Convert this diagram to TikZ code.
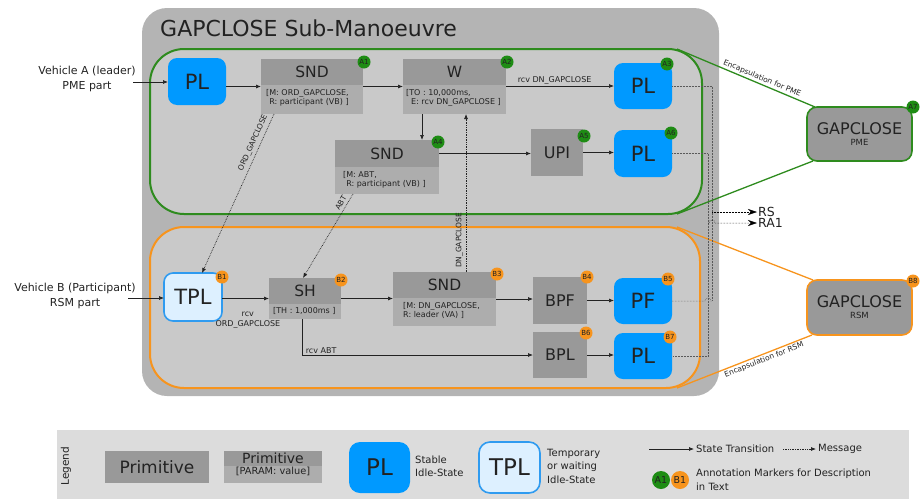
\documentclass[tikz,border=0pt]{standalone}
\usepackage{fontspec}
\setmainfont{DejaVu Sans}
\usetikzlibrary{arrows.meta,calc}
\definecolor{outergray}{HTML}{B4B4B4}
\definecolor{innergray}{HTML}{C9C9C9}
\definecolor{hdrgray}{HTML}{999999}
\definecolor{bodygray}{HTML}{ADADAD}
\definecolor{plblue}{HTML}{0099FF}
\definecolor{tplfill}{HTML}{DDF0FF}
\definecolor{tplborder}{HTML}{2F9BF0}
\definecolor{gline}{HTML}{2E8B1E}
\definecolor{oline}{HTML}{F7941D}
\definecolor{mgreen}{HTML}{1E8C14}
\definecolor{morange}{HTML}{F7941D}
\definecolor{legbg}{HTML}{DCDCDC}
\definecolor{txt}{HTML}{222222}
\newcommand{\fz}[2]{\fontsize{#1}{#2}\selectfont}
\tikzset{
  box/.style={inner sep=0pt, outer sep=0pt, text=txt},
  hdr/.style={box, fill=hdrgray, font=\fz{15.5}{18}},
  bodyb/.style={box, fill=bodygray},
  btxt/.style={inner sep=0pt, align=left, anchor=north west, font=\fz{8}{9.6}, text=txt},
  prim/.style={box, fill=hdrgray, font=\fz{16}{19}},
  idle/.style={box, fill=plblue, rounded corners=9pt, minimum width=58pt, minimum height=47pt, font=\fz{21}{24}},
  tplst/.style={box, fill=tplfill, draw=tplborder, line width=1.6pt, rounded corners=9pt, minimum width=58pt, minimum height=48pt, font=\fz{21}{24}},
  mk/.style={circle, inner sep=0pt, minimum size=13pt, font=\fz{7}{8}, text=txt},
  mkg/.style={mk, fill=mgreen},
  mko/.style={mk, fill=morange},
  arr/.style={draw=txt, line width=0.7pt, -{Latex[length=5pt,width=4pt]}},
  msg/.style={arr, densely dotted},
  lbl/.style={inner sep=1.5pt, font=\fz{8}{9.6}, text=txt},
  rsl/.style={draw=black!65, line width=0.5pt, densely dotted},
  enc/.style={line width=1.3pt},
  cap/.style={box, font=\fz{16}{18}, align=center}
}
\begin{document}
\begin{tikzpicture}[x=1pt, y=-1pt, font=\fz{10}{12}]
\useasboundingbox (0,0) rectangle (923,498);
% outer container
\fill[outergray, rounded corners=25pt] (142,8) rectangle (719,396);
\node[anchor=base west, inner sep=0pt, font=\fz{22}{26}, text=txt] (title) at (160,36) {GAPCLOSE Sub-Manoeuvre};
% phase boxes
\draw[gline, fill=innergray, line width=2pt, rounded corners=34pt] (150,49) rectangle (702,214);
\draw[oline, fill=innergray, line width=2pt, rounded corners=34pt] (150,227) rectangle (700,388);
\coordinate (gtop) at (677,49);
\coordinate (gbot) at (677,214);
\coordinate (otop) at (677,227);
\coordinate (obot) at (677,388);

% encapsulation targets
\node[box, fill=hdrgray, draw=gline, line width=1.6pt, rounded corners=10pt, minimum width=105pt, minimum height=54pt, align=center] (pme) at (859.5,134) {\fz{16}{18}GAPCLOSE\\[-1pt]\fz{8.5}{10}PME};
\node[box, fill=hdrgray, draw=oline, line width=1.6pt, rounded corners=10pt, minimum width=105pt, minimum height=55pt, align=center] (rsm) at (859.5,307.5) {\fz{16}{18}GAPCLOSE\\[-1pt]\fz{8.5}{10}RSM};
\draw[gline, enc] (gtop) -- node[sloped, above, pos=0.6, inner sep=1.5pt, font=\fz{7.5}{9}, text=txt] {Encapsulation for PME} ($(pme.north west)+(8,0)$);
\draw[gline, enc] (gbot) -- ($(pme.south west)+(6,0)$);
\draw[oline, enc] (otop) -- ($(rsm.north west)+(6,0)$);
\draw[oline, enc] (obot) -- node[sloped, below, pos=0.63, inner sep=1.5pt, font=\fz{7.5}{9}, text=txt] {Encapsulation for RSM} ($(rsm.south west)+(5,0)$);

% ---- Vehicle A row ----
\node[idle] (pl1) at (197,81.5) {PL};

\node[bodyb, minimum width=102pt, minimum height=55pt] (snd1) at (312,86.5) {};
\node[hdr, minimum width=102pt, minimum height=26pt, anchor=north] (snd1h) at (snd1.north) {SND};
\node[btxt] (snd1t) at ($(snd1h.south west)+(5,4)$) {[M: ORD\_GAPCLOSE,\\\phantom{[}R: participant (VB) ]};

\node[bodyb, minimum width=103pt, minimum height=55pt] (w) at (454.5,86.5) {};
\node[hdr, minimum width=103pt, minimum height=26pt, anchor=north] (wh) at (w.north) {W};
\node[btxt] (wt) at ($(wh.south west)+(3,4)$) {[TO : 10,000ms,\\\hspace{5pt}E: rcv DN\_GAPCLOSE ]};

\node[idle, minimum height=46pt] (pl3) at (643,86) {PL};

\node[bodyb, minimum width=104pt, minimum height=54pt] (snd4) at (387,167) {};
\node[hdr, minimum width=104pt, minimum height=27pt, anchor=north] (snd4h) at (snd4.north) {SND};
\node[btxt] (snd4t) at ($(snd4h.south west)+(8,4)$) {[M: ABT,\\\phantom{[}R: participant (VB) ]};

\node[prim, minimum width=52pt, minimum height=47pt] (upi) at (557,152.5) {UPI};
\node[idle] (pl6) at (643,153.5) {PL};

% ---- Vehicle B row ----
\node[tplst] (tpl) at (193,297) {TPL};

\node[bodyb, minimum width=72pt, minimum height=41pt] (sh) at (305,298.5) {};
\node[hdr, minimum width=72pt, minimum height=26pt, anchor=north] (shh) at (sh.north) {SH};
\node[btxt] (sht) at ($(shh.south west)+(4,3)$) {[TH : 1,000ms ]};

\node[bodyb, minimum width=103pt, minimum height=54pt] (snd3) at (444.5,299) {};
\node[hdr, minimum width=103pt, minimum height=26pt, anchor=north] (snd3h) at (snd3.north) {SND};
\node[btxt] (snd3t) at ($(snd3h.south west)+(10,4)$) {[M: DN\_GAPCLOSE,\\R: leader (VA) ]};

\node[prim, minimum width=54pt, minimum height=47pt] (bpf) at (560,300.5) {BPF};
\node[idle, minimum height=46pt] (pf) at (643,301) {PF};
\node[prim, minimum width=54pt, minimum height=46pt] (bpl) at (560,355) {BPL};
\node[idle, minimum height=46pt] (pl7) at (643,356) {PL};

% ---- markers ----
\node[mkg] (mA1) at (364,62) {A1};
\node[mkg] (mA2) at (507,62) {A2};
\node[mkg] (mA3) at (667,64) {A3};
\node[mkg] (mA4) at (438,142) {A4};
\node[mkg] (mA5) at (584,136) {A5};
\node[mkg] (mA6) at (671,133) {A6};
\node[mkg] (mA7) at (913,107) {A7};
\node[mko] (mB1) at (222,277) {B1};
\node[mko] (mB2) at (341,280) {B2};
\node[mko] (mB3) at (497,274) {B3};
\node[mko] (mB4) at (587,277) {B4};
\node[mko] (mB5) at (668,279) {B5};
\node[mko] (mB6) at (586,333) {B6};
\node[mko] (mB7) at (670,337) {B7};
\node[mko] (mB8) at (913,281) {B8};

% ---- entry labels ----
\node[align=center, font=\fz{11}{14.5}, text=txt, inner sep=0pt] (vA) at (87,79) {Vehicle A (leader)\\PME part};
\node[align=center, font=\fz{11}{14.5}, text=txt, inner sep=0pt] (vB) at (75,296) {Vehicle B (Participant)\\RSM part};
\coordinate (vAin) at (133,82);
\coordinate (vBin) at (128,298);
\draw[arr] (vAin) -- (vAin -| pl1.west);
\draw[arr] (vBin) -- (vBin -| tpl.west);

% ---- state transitions ----
\draw[arr] (pl1.east |- snd1.west) -- (snd1.west);
\draw[arr] (snd1.east) -- (w.west);
\draw[arr] (w.east |- pl3.west) -- node[lbl, above, pos=0.45] {rcv DN\_GAPCLOSE} (pl3.west);
\coordinate (wdown) at ($(w.south west)+(19,0)$);
\draw[arr] (wdown) -- (wdown |- snd4.north);
\draw[arr] (snd4h.east) -- (snd4h.east -| upi.west);
\draw[arr] (upi.east) -- (upi.east -| pl6.west);
\draw[arr] (tpl.east |- sh.west) -- node[lbl, below, align=center, pos=0.55, yshift=-12pt, font=\fz{8}{10}] {rcv\\ORD\_GAPCLOSE} (sh.west);
\draw[arr] (sh.east) -- (sh.east -| snd3.west);
\draw[arr] (snd3.east) -- (snd3.east -| bpf.west);
\draw[arr] (bpf.east) -- (bpf.east -| pf.west);
\coordinate (shdown) at ($(sh.south west)+(33,0)$);
\draw[arr] (shdown) |- node[lbl, anchor=south west, pos=0.5, xshift=2pt] {rcv ABT} (bpl.west);
\draw[arr] (bpl.east) -- (bpl.east -| pl7.west);

% ---- messages ----
\coordinate (m1s) at ($(snd1.south west)+(13,0)$);
\coordinate (m1e) at ($(tpl.north)+(9,0)$);
\draw[msg] (m1s) -- node[lbl, sloped, above, pos=0.2, inner sep=3pt, font=\fz{7.5}{9}] {ORD\_GAPCLOSE} (m1e);
\coordinate (m2s) at ($(snd4.south west)+(18,0)$);
\coordinate (m2e) at ($(sh.north)+(-2,0)$);
\draw[msg] (m2s) -- node[lbl, sloped, above, pos=0.14, inner sep=3pt, font=\fz{7.5}{9}] {ABT} (m2e);
\coordinate (m3s) at ($(snd3.north west)+(73,0)$);
\draw[msg] (m3s) -- node[lbl, sloped, above, pos=0.2, inner sep=2.5pt, font=\fz{7.5}{9}] {DN\_GAPCLOSE} (m3s |- w.south);

% ---- RS / RA1 outputs ----
\coordinate (rsA) at (712,212);
\coordinate (raA) at (708,223);
\coordinate (rsE) at (757,212);
\coordinate (raE) at (757,223);
\draw[rsl] (pl3.east) -| (712,301);
\draw[rsl] (pf.east) -- (705,301) arc (180:360:3) -- (712,301);
\draw[rsl] (pl6.east) -| (708,356) -- (pl7.east);
\draw[rsl, -{Stealth[length=9pt,width=6pt]}, black] (rsA) -- (rsE);
\draw[rsl, -{Stealth[length=9pt,width=6pt]}, black] (raA) -- (709,223) arc (180:360:3) -- (raE);
\node[anchor=west, inner sep=1pt, font=\fz{12.5}{14}, text=txt] (rs) at (rsE) {RS};
\node[anchor=west, inner sep=1pt, font=\fz{12.5}{14}, text=txt] (ra1) at (raE) {RA1};

% ---- legend ----
\fill[legbg] (57,430) rectangle (909,500);
\node[rotate=90, font=\fz{10.5}{12}, text=txt, inner sep=0pt] (legt) at (66,466) {Legend};
\node[prim, minimum width=104pt, minimum height=32pt, font=\fz{17}{20}] (lprim) at (157,467) {Primitive};
\node[bodyb, minimum width=98pt, minimum height=32pt] (lprim2) at (273,467) {};
\node[hdr, minimum width=98pt, minimum height=15pt, anchor=north, font=\fz{14}{16}] (lprim2h) at (lprim2.north) {Primitive};
\node[box, font=\fz{9.8}{11}, anchor=north] (lprim2t) at ($(lprim2h.south)+(0,1.5)$) {[PARAM: value]};
\node[idle, minimum width=61pt, minimum height=51pt, rounded corners=11pt, font=\fz{23}{26}] (lpl) at (379.5,467.5) {PL};
\node[anchor=west, align=left, font=\fz{10}{13}, text=txt, inner sep=0pt] (lplt) at (415,466) {Stable\\Idle-State};
\node[tplst, minimum width=61pt, minimum height=51pt, rounded corners=11pt, font=\fz{23}{26}] (ltpl) at (509.5,467.5) {TPL};
\node[anchor=west, align=left, font=\fz{10}{13.5}, text=txt, inner sep=0pt] (ltplt) at (547,466) {Temporary\\or waiting\\Idle-State};
\coordinate (la1) at (649,449);
\node[anchor=west, font=\fz{10}{12}, text=txt, inner sep=0pt] (lst) at (696,449) {State Transition};
\draw[arr] (la1) -- ($(lst.west)+(-2,0)$);
\coordinate (la2) at (783,449);
\node[anchor=west, font=\fz{10}{12}, text=txt, inner sep=0pt] (lmsg) at (818,449) {Message};
\draw[msg] (la2) -- ($(lmsg.west)+(-2,0)$);
\node[mkg, minimum size=18pt, font=\fz{9.5}{10}] (lA1) at (661,480) {A1};
\node[mko, minimum size=18pt, font=\fz{9.5}{10}] (lB1) at (680,480) {B1};
\node[anchor=west, align=left, font=\fz{10}{13.5}, text=txt, inner sep=0pt] (lann) at (696,480) {Annotation Markers for Description\\in Text};
\end{tikzpicture}
\end{document}
